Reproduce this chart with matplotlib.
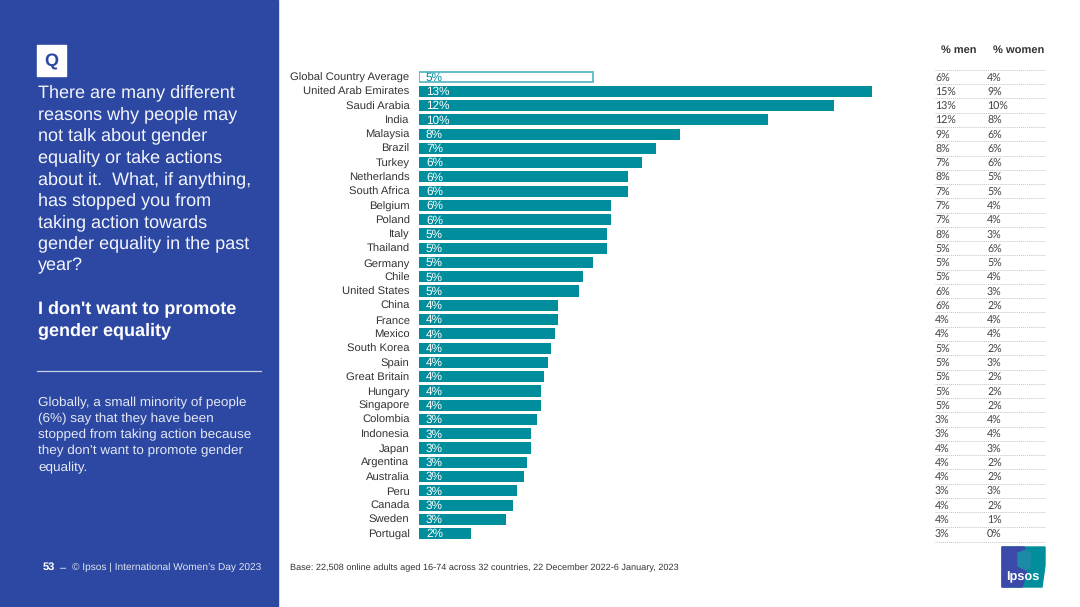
import matplotlib
matplotlib.use("Agg")
import matplotlib.pyplot as plt
from matplotlib.patches import Rectangle, Polygon

plt.rcParams['font.family'] = ['Liberation Sans', 'DejaVu Sans']
plt.rcParams['text.hinting'] = 'no_hinting'

countries = ["Global Country Average", "United Arab Emirates", "Saudi Arabia", "India", "Malaysia",
             "Brazil", "Turkey", "Netherlands", "South Africa", "Belgium", "Poland", "Italy",
             "Thailand", "Germany", "Chile", "United States", "China", "France", "Mexico",
             "South Korea", "Spain", "Great Britain", "Hungary", "Singapore", "Colombia",
             "Indonesia", "Japan", "Argentina", "Australia", "Peru", "Canada", "Sweden", "Portugal"]
# bar lengths (percent)
values = [5.0, 13.0, 11.9, 10.0, 7.5, 6.8, 6.4, 6.0, 6.0, 5.5, 5.5, 5.4, 5.4, 5.0, 4.7, 4.6,
          4.0, 4.0, 3.9, 3.8, 3.7, 3.6, 3.5, 3.5, 3.4, 3.2, 3.2, 3.1, 3.0, 2.8, 2.7, 2.5, 1.5]
labels = [5, 13, 12, 10, 8, 7, 6, 6, 6, 6, 6, 5, 5, 5, 5, 5, 4, 4, 4, 4, 4, 4, 4, 4, 3, 3, 3, 3, 3, 3, 3, 3, 2]
men = [6, 15, 13, 12, 9, 8, 7, 8, 7, 7, 7, 8, 5, 5, 5, 6, 6, 4, 4, 5, 5, 5, 5, 5, 3, 3, 4, 4, 4, 3, 4, 4, 3]
women = [4, 9, 10, 8, 6, 6, 6, 5, 5, 4, 4, 3, 6, 5, 4, 3, 2, 4, 4, 2, 3, 2, 2, 2, 4, 4, 3, 2, 2, 3, 2, 1, 0]

question = ["There are many different", "reasons why people may", "not talk about gender",
            "equality or take actions", "about it.  What, if anything,", "has stopped you from",
            "taking action towards", "gender equality in the past", "year?"]
headline = ["I don't want to promote", "gender equality"]
summary = ["Globally, a small minority of people", "(6%) say that they have been",
           "stopped from taking action because", "they don\u2019t want to promote gender", "equality."]

BLUE = "#2c48a2"
TEAL = "#008d9c"
W, H = 1080, 607

fig = plt.figure(figsize=(W / 100, H / 100), dpi=100, facecolor="white")

# page layer in pixel coordinates, y going down
bg = fig.add_axes([0, 0, 1, 1])
bg.set_xlim(0, W)
bg.set_ylim(H, 0)
bg.axis("off")

bg.add_patch(Rectangle((0, 0), 278, H, color=BLUE))
bg.add_patch(Rectangle((37, 45), 29, 31, color="white"))
bg.text(51.5, 66.5, "Q", color=BLUE, fontsize=13, fontweight="bold", ha="center", va="baseline")

for i, line in enumerate(question):
    bg.text(38, 97.5 + i * 21.6, line, color="#f4f5fa", fontsize=12.97, va="baseline")
for i, line in enumerate(headline):
    bg.text(38, 313.5 + i * 21.5, line, color="white", fontsize=12.97, fontweight="bold", va="baseline")
bg.plot([37, 261], [371, 371], color="#c8d0e8", lw=0.9)
for i, line in enumerate(summary):
    bg.text(38, 406 + i * 16.2, line, color="#e4e8f4", fontsize=9.7, va="baseline")

bg.text(43, 570, "53", color="white", fontsize=8, fontweight="bold", va="baseline")
bg.text(60, 570, "\u2013", color="white", fontsize=8, va="baseline")
bg.text(72, 570, "\u00a9 Ipsos | International Women\u2019s Day 2023", color="#dfe4f2", fontsize=7.32, va="baseline")
bg.text(290, 570, "Base: 22,508 online adults aged 16-74 across 32 countries, 22 December 2022-6 January, 2023",
        color="#333333", fontsize=6.56, va="baseline")

# bars, one row = 14.27 px
row_h = 14.27
top = 77 - row_h / 2
ax = fig.add_axes([419 / W, 1 - (top + 33 * row_h) / H, 560 / W, 33 * row_h / H])
ax.set_xlim(0, 560 / 34.85)
ax.set_ylim(32.5, -0.5)
ax.axis("off")
for i, (c, v, lab) in enumerate(zip(countries, values, labels)):
    if i == 0:
        ax.barh(i, v, height=0.72, facecolor="white", edgecolor="#5db8c4", linewidth=1.3)
    else:
        ax.barh(i, v, height=0.78, color=TEAL)
    ax.text(0.2, i + 0.26, f"{lab}%", color=TEAL if i == 0 else "white", fontsize=8.5, va="baseline")
    ax.text(-0.27, i + 0.27, c, color="#333333", fontsize=8.1, ha="right", va="baseline", clip_on=False)

# men / women table on the right
bg.text(959, 52.5, "% men", color="#333333", fontsize=7.9, fontweight="bold", ha="center", va="baseline")
bg.text(1019, 52.5, "% women", color="#333333", fontsize=8, fontweight="bold", ha="center", va="baseline")
for i, (m, wo) in enumerate(zip(men, women)):
    y = 77.5 + i * row_h
    bg.text(935, y + 4, f"{m}%", color="#404040", fontsize=7.7, family="Lato", va="baseline")
    bg.text(987, y + 4, f"{wo}%", color="#404040", fontsize=7.7, family="Lato", va="baseline")
    bg.plot([935, 1045], [y - 7.6, y - 7.6], color="#c4c4c4", lw=0.7, ls=(0, (1, 1)))
bg.plot([935, 1045], [541.5, 541.5], color="#c4c4c4", lw=0.7, ls=(0, (1, 1)))

# Ipsos logo
bg.add_patch(Polygon([(1002, 547), (1045, 547), (1045, 565), (1042, 587), (1002, 587)], color=TEAL))
bg.add_patch(Polygon([(1002, 547), (1024, 547), (1027, 552), (1027, 570), (1022, 587), (1002, 587)], color="#3b4aa8"))
bg.add_patch(Polygon([(1018, 553), (1026, 550), (1031, 554), (1030, 566), (1026, 570), (1018, 566)], color="#1d8aa8"))
bg.text(1023, 580, "Ipsos", color="white", fontsize=9.2, fontweight="bold", ha="center", va="baseline")

fig.savefig("out.png", dpi=100, facecolor="white")
